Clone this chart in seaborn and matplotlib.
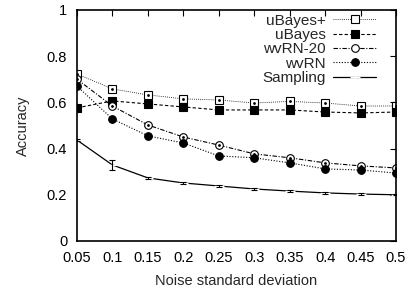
import numpy as np
import pandas as pd
import seaborn as sns
import matplotlib.pyplot as plt

noise = [0.05, 0.1, 0.15, 0.2, 0.25, 0.3, 0.35, 0.4, 0.45, 0.5]
ubayes_plus = [0.723, 0.658, 0.632, 0.615, 0.61, 0.597, 0.604, 0.597, 0.584, 0.584]
ubayes = [0.576, 0.606, 0.593, 0.58, 0.567, 0.567, 0.567, 0.558, 0.554, 0.558]
wvrn20 = [0.70, 0.584, 0.502, 0.45, 0.415, 0.377, 0.36, 0.338, 0.325, 0.316]
wvrn = [0.67, 0.528, 0.455, 0.424, 0.368, 0.36, 0.338, 0.312, 0.307, 0.294]
sampling = [0.437, 0.329, 0.273, 0.251, 0.238, 0.225, 0.216, 0.208, 0.203, 0.2]
sampling_err = [0.005, 0.022, 0.006, 0.004, 0.003, 0.003, 0.003, 0.003, 0.003, 0.003]

sns.set_style("white")
plt.rcParams['font.family'] = ['Liberation Sans', 'DejaVu Sans']

fig = plt.figure(figsize=(4.07, 2.90), dpi=100)
ax = fig.add_axes([0.189, 0.169, 0.784, 0.797])

series = [
    ("uBayes+", ubayes_plus, (0, (1, 1.5)), 's', 'white', 0.6),
    ("uBayes", ubayes, (0, (3, 2)), 's', 'black', 0.8),
    ("wvRN-20", wvrn20, (0, (4, 1.5, 1, 1.5)), 'o', 'white', 0.8),
    ("wvRN", wvrn, (0, (1, 1.5)), 'o', 'black', 0.8),
]
for name, vals, ls, mk, fc, lw in series:
    df = pd.DataFrame({"x": noise, "y": vals})
    sns.lineplot(data=df, x="x", y="y", ax=ax, color='black', linestyle=ls,
                 linewidth=lw, marker=mk, markersize=5.5,
                 markerfacecolor=fc, markeredgecolor='black', markeredgewidth=0.8,
                 label=name)
    if fc == 'white':
        ax.plot(noise, vals, linestyle='none', marker='.', markersize=2,
                color='black')

df = pd.DataFrame({"x": noise, "y": sampling})
sns.lineplot(data=df, x="x", y="y", ax=ax, color='black', linewidth=0.9,
             marker='+', markersize=7, markeredgewidth=0.9, label="Sampling")
ax.errorbar(noise, sampling, yerr=sampling_err, fmt='none', ecolor='black',
            elinewidth=0.8, capsize=2.5, capthick=0.8)

ax.set_xlim(0.05, 0.5)
ax.set_ylim(0, 1)
ax.set_xticks(noise)
ax.set_xticklabels(["0.05", "0.1", "0.15", "0.2", "0.25", "0.3", "0.35", "0.4", "0.45", "0.5"])
ax.set_yticks([0, 0.2, 0.4, 0.6, 0.8, 1])
ax.set_yticklabels(["0", "0.2", "0.4", "0.6", "0.8", "1"])
ax.tick_params(direction='in', length=4, width=0.8, top=True, right=True,
               labelsize=10.5, colors='black', pad=7)
for s in ax.spines.values():
    s.set_color('black')
    s.set_linewidth(1.2)
ax.set_xlabel("Noise standard deviation", fontsize=10.5, labelpad=7)
ax.set_ylabel("Accuracy", fontsize=10.5, labelpad=12)

ax.legend(loc='upper right', bbox_to_anchor=(0.95, 1.0), frameon=False,
          markerfirst=False, fontsize=11, handlelength=2.8, labelspacing=0.02,
          borderaxespad=0.0, borderpad=0.25, handletextpad=0.5)

fig.savefig("out.png", dpi=100)
